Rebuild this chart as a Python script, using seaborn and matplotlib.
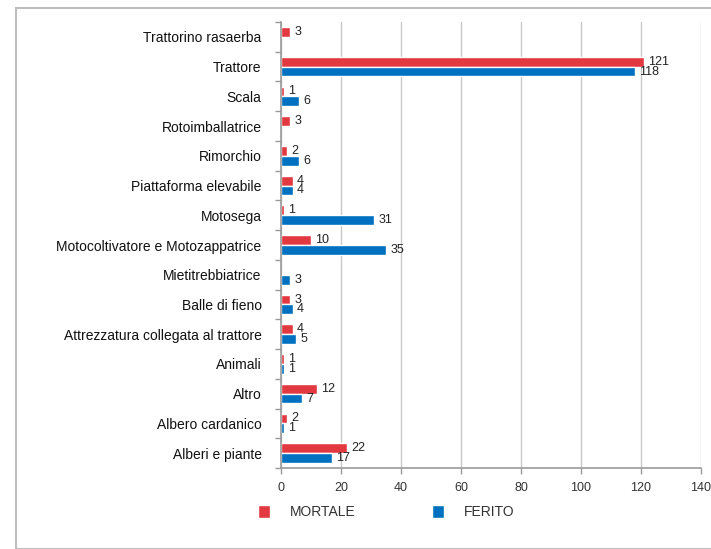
import numpy as np
import pandas as pd
import seaborn as sns
import matplotlib.pyplot as plt
from matplotlib.patches import Patch, Rectangle

categories = [
    "Trattorino rasaerba",
    "Trattore",
    "Scala",
    "Rotoimballatrice",
    "Rimorchio",
    "Piattaforma elevabile",
    "Motosega",
    "Motocoltivatore e Motozappatrice",
    "Mietitrebbiatrice",
    "Balle di fieno",
    "Attrezzatura collegata al trattore",
    "Animali",
    "Altro",
    "Albero cardanico",
    "Alberi e piante",
]
mortale = [3, 121, 1, 3, 2, 4, 1, 10, None, 3, 4, 1, 12, 2, 22]
ferito = [None, 118, 6, None, 6, 4, 31, 35, 3, 4, 5, 1, 7, 1, 17]
series = ["MORTALE", "FERITO"]
colors = ["#E2383F", "#0070C0"]

rows = []
for cat, m, f in zip(categories, mortale, ferito):
    rows.append({"categoria": cat, "tipo": "MORTALE", "n": m})
    rows.append({"categoria": cat, "tipo": "FERITO", "n": f})
df = pd.DataFrame(rows)
df["n"] = df["n"].astype(float)

sns.set_theme(style="white")
plt.rcParams["font.family"] = ["Liberation Sans", "DejaVu Sans"]

fig = plt.figure(figsize=(7.11, 5.49), dpi=100)
ax = fig.add_axes([281 / 711, 1 - 468 / 549, 420 / 711, 446 / 549])

sns.barplot(
    data=df, x="n", y="categoria", hue="tipo", order=categories,
    hue_order=series, palette=colors, orient="h", width=0.66,
    saturation=1, ax=ax, legend=False,
)

for cont in ax.containers:
    labels = ["" if np.isnan(b.get_width()) else f"{b.get_width():.0f}" for b in cont]
    ax.bar_label(cont, labels=labels, padding=3, fontsize=9, color="#222222")

ax.set_xlim(0, 140)
ax.set_xticks(range(0, 141, 20))
ax.xaxis.grid(True, color="#C8C8C8", linewidth=1)
ax.set_axisbelow(True)
ax.set_xlabel("")
ax.set_ylabel("")
for s in ["top", "right"]:
    ax.spines[s].set_visible(False)
for s in ["left", "bottom"]:
    ax.spines[s].set_color("#9A9A9A")
    ax.spines[s].set_linewidth(1.2)

ax.tick_params(axis="x", labelsize=9, colors="#333333", length=4, width=1,
               direction="out", bottom=True, color="#9A9A9A", pad=6)
ax.tick_params(axis="y", labelsize=10, colors="#111111", length=0, pad=14)
ax.set_yticks(np.arange(-0.5, len(categories), 1), minor=True)
ax.tick_params(axis="y", which="minor", length=4, left=True, color="#9A9A9A", width=1)

handles = [Patch(facecolor=c, label=s) for c, s in zip(colors, series)]
ax.legend(handles=handles, loc="upper center", bbox_to_anchor=(0.25, -0.055),
          ncol=2, frameon=False, handlelength=0.9, handleheight=1.1,
          columnspacing=5.5, handletextpad=1.4, fontsize=10,
          labelcolor="#333333")

fig.patches.append(Rectangle((16 / 711, 0), 1, 1 - 8 / 549, transform=fig.transFigure,
                             fill=False, edgecolor="#BEBEBE", linewidth=1.5))

fig.savefig("out.png", dpi=100)
